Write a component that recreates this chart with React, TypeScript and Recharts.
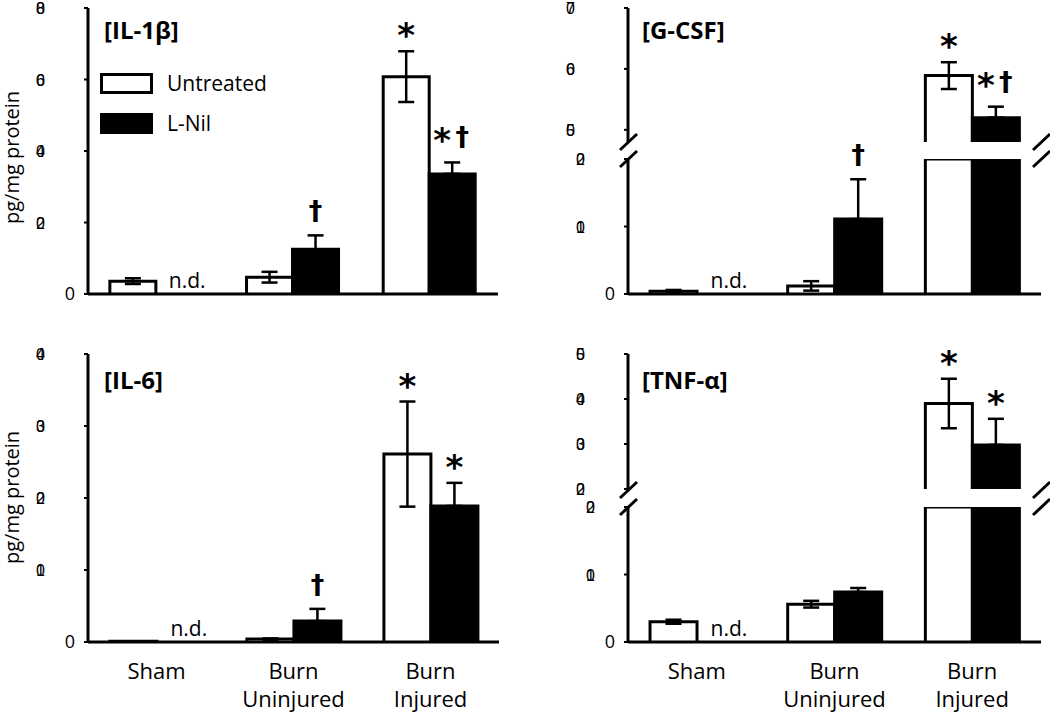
import React from "react";
import { BarChart, Bar, XAxis, YAxis, ErrorBar, LabelList, Legend } from "recharts";

const categories = ["Sham", "Burn\nUninjured", "Burn\nInjured"];
const ndLNil = ["n.d.", "", ""];
const legendOrder = ["Untreated", "L-Nil"];

// IL-1β
const il1bUntreated = [0.36, 0.47, 6.08];
const il1bUntreatedErr = [0.08, 0.15, 0.71];
const il1bLNil = [0, 1.25, 3.36];
const il1bLNilErr = [0, 0.39, 0.32];
const il1bMarksU = ["", "", "*"];
const il1bMarksN = ["", "†", "*†"];
const il1bTicks = [0, 2, 4, 6, 8];

// G-CSF (broken axis)
const gcsfUntreated = [0.04, 0.12, 5.89];
const gcsfUntreatedErr = [0.02, 0.07, 0.22];
const gcsfLNil = [0, 1.11, 5.2];
const gcsfLNilErr = [0, 0.59, 0.18];
const gcsfMarksU = ["", "", "*"];
const gcsfMarksN = ["", "†", "*†"];
const gcsfLowTicks = [0, 1, 2];
const gcsfHighTicks = [5, 6, 7];

// IL-6
const il6Untreated = [0.01, 0.04, 2.61];
const il6UntreatedErr = [0, 0.01, 0.73];
const il6LNil = [0, 0.29, 1.89];
const il6LNilErr = [0, 0.17, 0.32];
const il6MarksU = ["", "", "*"];
const il6MarksN = ["", "†", "*"];
const il6Ticks = [0, 1, 2, 3, 4];

// TNF-α (broken axis)
const tnfUntreated = [0.3, 0.56, 3.9];
const tnfUntreatedErr = [0.03, 0.05, 0.55];
const tnfLNil = [0, 0.74, 2.98];
const tnfLNilErr = [0, 0.06, 0.58];
const tnfMarksU = ["", "", "*"];
const tnfMarksN = ["", "", "*"];
const tnfLowTicks = [0, 1, 2];
const tnfHighTicks = [2, 3, 4, 5];

const FONT = "'Open Sans', sans-serif";
const AXIS = { stroke: "#000", strokeWidth: 3 };

type Series = {
  u: number[];
  uErr: number[];
  n: number[];
  nErr: number[];
  mu: string[];
  mn: string[];
};

function buildRows(s: Series, lo: number, hi: number) {
  return categories.map((cat, i) => {
    const uIn = s.u[i] >= lo && s.u[i] <= hi;
    const nIn = s.n[i] >= lo && s.n[i] <= hi;
    return {
      cat,
      u: s.u[i],
      uTop: uIn ? s.uErr[i] : 0,
      uErr: uIn && s.uErr[i] > 0 ? [s.uErr[i], s.uErr[i]] : null,
      uMark: uIn ? s.mu[i] : "",
      n: s.n[i],
      nTop: nIn ? s.nErr[i] : 0,
      nErr: nIn && s.nErr[i] > 0 ? [0, s.nErr[i]] : null,
      nMark: nIn ? s.mn[i] : "",
      nd: nIn ? ndLNil[i] : "",
    };
  });
}

const OutlineBar = (props: any) => {
  const { x, y, width, height, fill } = props;
  if (width == null || height == null || height <= 0) return <g />;
  return (
    <g>
      <rect x={x} y={y} width={width} height={height} fill={fill} />
      <path
        d={`M${x},${y + height}V${y}H${x + width}V${y + height}`}
        fill="none"
        stroke="#000"
        strokeWidth={3}
      />
    </g>
  );
};

const boxOf = (props: any) =>
  props.viewBox && props.viewBox.width != null ? props.viewBox : props;

const Star = ({ x, base }: { x: number; base: number }) => (
  <text x={x} y={base} textAnchor="middle" fontFamily="'DejaVu Sans'" fontWeight="bold" fontSize={34} fill="#000">
    *
  </text>
);

const Dagger = ({ x, base }: { x: number; base: number }) => (
  <text x={x} y={base} textAnchor="middle" fontFamily="'DejaVu Sans'" fontWeight="bold" fontSize={27} fill="#000">
    †
  </text>
);

const MarkLabel = (props: any) => {
  const value = props.value;
  if (!value) return null;
  const b = boxOf(props);
  const cx = b.x + b.width / 2;
  const top = b.y;
  if (value === "*") return <Star x={cx} base={top - 4} />;
  if (value === "†") return <Dagger x={cx} base={top - 15} />;
  const db = top - 16;
  return (
    <g>
      <Star x={cx - 10} base={db + 6} />
      <Dagger x={cx + 10} base={db} />
    </g>
  );
};

const NdLabel = (props: any) => {
  if (!props.value) return null;
  const b = boxOf(props);
  return (
    <text x={b.x + b.width / 2 - 10} y={b.y - 6} fontFamily={FONT} fontSize={21} fill="#000">
      {props.value}
    </text>
  );
};

const yTick = (inset: number) => (props: any) => {
  const { x, y, payload } = props;
  const axisX = x + 4;
  const v = payload.value;
  if (v === 0) {
    return (
      <text x={axisX - 13} y={y + 6} textAnchor="end" fontFamily={FONT} fontSize={18} fill="#000">
        0
      </text>
    );
  }
  return (
    <g>
      {[String(v), "0"].map((ch) => (
        <text key={ch} x={axisX - inset} y={y + 6} textAnchor="end" fontFamily="'Liberation Sans'" fontSize={16} fill="#000">
          {ch}
        </text>
      ))}
    </g>
  );
};

const CategoryTick = (props: any) => {
  const { x, y, payload } = props;
  const lines = String(payload.value).split("\n");
  return (
    <g>
      {lines.map((l, i) => (
        <text key={i} x={x} y={y + 29 + i * 28} textAnchor="middle" fontFamily={FONT} fontSize={22} fill="#000">
          {l}
        </text>
      ))}
    </g>
  );
};

const renderLegend = (props: any) => {
  const payload = props.payload || [];
  const items = legendOrder
    .map((name) => payload.find((p: any) => p.value === name))
    .filter(Boolean);
  return (
    <div style={{ display: "flex", flexDirection: "column", gap: 19 }}>
      {items.map((p: any) => (
        <div key={p.value} style={{ display: "flex", alignItems: "center", height: 21 }}>
          <div
            style={{
              width: 53,
              height: 21,
              boxSizing: "border-box",
              border: "3px solid #000",
              background: p.color,
              marginRight: 14,
            }}
          />
          <span style={{ fontFamily: FONT, fontSize: 21, color: "#000", lineHeight: "21px" }}>{p.value}</span>
        </div>
      ))}
    </div>
  );
};

type SegProps = {
  left: number;
  top: number;
  width: number;
  height: number;
  axisWidth: number;
  margin: { top: number; right: number; bottom: number; left: number };
  series: Series;
  domain: [number, number];
  ticks: number[];
  inset: number;
  frameTop?: boolean;
  axisBottom?: boolean;
  xLabels?: boolean;
  legend?: boolean;
};

function Segment(p: SegProps) {
  const rows = buildRows(p.series, p.domain[0], p.domain[1]);
  return (
    <div style={{ position: "absolute", left: p.left, top: p.top }}>
      <BarChart width={p.width} height={p.height} data={rows} margin={p.margin} barCategoryGap="16%" barGap={0}>
        {p.frameTop && (
          <XAxis xAxisId="top" orientation="top" dataKey="cat" height={0} tick={false} tickLine={false} axisLine={AXIS} />
        )}
        <XAxis
          dataKey="cat"
          hide={!p.axisBottom}
          height={p.xLabels ? 70 : 16}
          tick={p.xLabels ? <CategoryTick /> : false}
          tickLine={false}
          axisLine={AXIS}
          interval={0}
        />
        <YAxis
          type="number"
          domain={p.domain}
          allowDataOverflow
          ticks={p.ticks}
          interval={0}
          width={p.axisWidth}
          tickSize={4}
          tickMargin={0}
          tickLine={{ stroke: "#000", strokeWidth: 2 }}
          axisLine={AXIS}
          tick={yTick(p.inset)}
        />
        <YAxis
          yAxisId="right"
          orientation="right"
          type="number"
          domain={p.domain}
          width={0}
          tick={false}
          tickLine={false}
          axisLine={AXIS}
        />
        <Bar dataKey="u" name="Untreated" stackId="u" fill="#ffffff" shape={OutlineBar} isAnimationActive={false}>
          <ErrorBar dataKey="uErr" direction="y" width={8} strokeWidth={2.5} stroke="#000" />
        </Bar>
        <Bar dataKey="uTop" stackId="u" fill="transparent" legendType="none" isAnimationActive={false}>
          <LabelList dataKey="uMark" content={MarkLabel} />
        </Bar>
        <Bar dataKey="n" name="L-Nil" stackId="n" fill="#000000" shape={OutlineBar} isAnimationActive={false}>
          <ErrorBar dataKey="nErr" direction="y" width={8} strokeWidth={2.5} stroke="#000" />
          <LabelList dataKey="nd" content={NdLabel} />
        </Bar>
        <Bar dataKey="nTop" stackId="n" fill="transparent" legendType="none" isAnimationActive={false}>
          <LabelList dataKey="nMark" content={MarkLabel} />
        </Bar>
        {p.legend && (
          <Legend
            layout="vertical"
            align="center"
            verticalAlign="middle"
            content={renderLegend}
            wrapperStyle={{ left: 75, top: 73, width: "auto" }}
          />
        )}
      </BarChart>
    </div>
  );
}

const il1b: Series = { u: il1bUntreated, uErr: il1bUntreatedErr, n: il1bLNil, nErr: il1bLNilErr, mu: il1bMarksU, mn: il1bMarksN };
const gcsf: Series = { u: gcsfUntreated, uErr: gcsfUntreatedErr, n: gcsfLNil, nErr: gcsfLNilErr, mu: gcsfMarksU, mn: gcsfMarksN };
const il6: Series = { u: il6Untreated, uErr: il6UntreatedErr, n: il6LNil, nErr: il6LNilErr, mu: il6MarksU, mn: il6MarksN };
const tnf: Series = { u: tnfUntreated, uErr: tnfUntreatedErr, n: tnfLNil, nErr: tnfLNilErr, mu: tnfMarksU, mn: tnfMarksN };

const BreakMark = ({ x, y }: { x: number; y: number }) => (
  <g stroke="#000" strokeWidth={3}>
    <line x1={x - 8} y1={y} x2={x + 9} y2={y - 16} />
    <line x1={x - 8} y1={y + 17} x2={x + 9} y2={y + 1} />
  </g>
);

const YTitle = ({ cy }: { cy: number }) => (
  <div
    style={{
      position: "absolute",
      left: 0,
      top: cy - 100,
      width: 24,
      height: 200,
      writingMode: "vertical-rl",
      transform: "rotate(180deg)",
      textAlign: "center",
      fontFamily: FONT,
      fontSize: 20,
      lineHeight: "24px",
      color: "#000",
      whiteSpace: "nowrap",
    }}
  >
    pg/mg protein
  </div>
);

export default function App() {
  return (
    <div style={{ position: "absolute", left: 0, top: 0, width: 1050, height: 714, background: "#fff" }}>
      <Segment
        left={25} top={0} width={485} height={310} axisWidth={63}
        margin={{ top: 8, right: 12, bottom: 0, left: 0 }}
        series={il1b} domain={[0, 8]} ticks={il1bTicks} inset={43}
        frameTop axisBottom legend
      />
      <Segment
        left={25} top={340} width={485} height={372} axisWidth={63}
        margin={{ top: 14, right: 11, bottom: 0, left: 0 }}
        series={il6} domain={[0, 4]} ticks={il6Ticks} inset={43}
        frameTop axisBottom xLabels
      />
      <Segment
        left={550} top={0} width={500} height={154} axisWidth={78}
        margin={{ top: 8, right: 9, bottom: 12, left: 0 }}
        series={gcsf} domain={[4.8, 7]} ticks={gcsfHighTicks} inset={53}
        frameTop
      />
      <Segment
        left={550} top={110} width={500} height={200} axisWidth={78}
        margin={{ top: 49, right: 9, bottom: 0, left: 0 }}
        series={gcsf} domain={[0, 2]} ticks={gcsfLowTicks} inset={43}
        axisBottom
      />
      <Segment
        left={550} top={340} width={500} height={161} axisWidth={78}
        margin={{ top: 14, right: 9, bottom: 12, left: 0 }}
        series={tnf} domain={[2, 5]} ticks={tnfHighTicks} inset={43}
        frameTop
      />
      <Segment
        left={550} top={470} width={500} height={242} axisWidth={78}
        margin={{ top: 37, right: 9, bottom: 0, left: 0 }}
        series={tnf} domain={[0, 2]} ticks={tnfLowTicks} inset={33}
        axisBottom xLabels
      />
      <YTitle cy={157} />
      <YTitle cy={497} />
      <svg width={1050} height={714} style={{ position: "absolute", left: 0, top: 0, pointerEvents: "none" }}>
        <g fontFamily={FONT} fontWeight="bold" fontSize={24} fill="#000">
          <text x={104} y={39}>[IL-1β]</text>
          <text x={642} y={39}>[G-CSF]</text>
          <text x={104} y={389}>[IL-6]</text>
          <text x={642} y={389}>[TNF-α]</text>
        </g>
        <BreakMark x={628} y={150} />
        <BreakMark x={1041} y={150} />
        <BreakMark x={628} y={498} />
        <BreakMark x={1041} y={498} />
      </svg>
    </div>
  );
}
